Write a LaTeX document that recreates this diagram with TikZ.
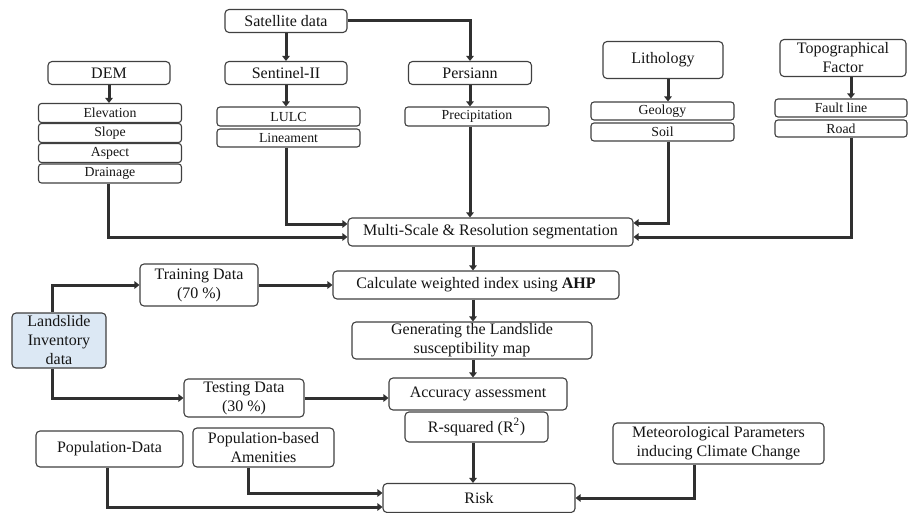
\documentclass[tikz,border=0pt]{standalone}
\usepackage{fontspec}
\setmainfont{Liberation Serif}
\usepackage{xcolor}
\definecolor{edge}{HTML}{404040}
\definecolor{wire}{HTML}{303030}
\definecolor{ink}{HTML}{151515}
\definecolor{inventory}{HTML}{DCE8F4}
\usepackage{tikz}
\usetikzlibrary{arrows.meta,positioning}

\begin{document}
\begin{tikzpicture}[x=1pt, y=-1pt,
    box/.style={draw=edge, line width=1.1pt, rounded corners=4pt, fill=white,
      text=ink, align=center, inner sep=1pt, font=\fontsize{16}{19}\selectfont},
    sub/.style={box, rounded corners=3pt, font=\fontsize{13.8}{15}\selectfont},
    arr/.style={draw=wire, line width=3pt, -{Triangle[length=5pt,width=7.5pt]}}]
  \useasboundingbox (0,0) rectangle (909,513);

  % Data sources
  \node[box, minimum width=122pt, minimum height=23pt] (sat) at (286,21) {Satellite data};
  \node[box, minimum width=122pt, minimum height=23pt] (dem) at (109,73) {DEM};
  \node[box, minimum width=122pt, minimum height=23pt] (sen) at (286,73) {Sentinel-II};
  \node[box, minimum width=123pt, minimum height=23pt] (per) at (470,73) {Persiann};
  \node[box, minimum width=120pt, minimum height=37pt] (lith) at (663,60) {Lithology};
  \node[box, minimum width=126pt, minimum height=37pt] (topo) at (843,58) {Topographical\\Factor};

  % Factor layers
  \node[sub, minimum width=143pt, minimum height=19pt] (elev) at (110,113) {Elevation};
  \node[sub, minimum width=143pt, minimum height=19pt] (slope) at (110,133) {Slope};
  \node[sub, minimum width=143pt, minimum height=19pt] (aspect) at (110,153) {Aspect};
  \node[sub, minimum width=143pt, minimum height=19pt] (drain) at (110,173.5) {Drainage};
  \node[sub, minimum width=143pt, minimum height=19pt] (lulc) at (288.5,116.5) {LULC};
  \node[sub, minimum width=143pt, minimum height=18pt] (linea) at (288.5,138) {Lineament};
  \node[sub, minimum width=144pt, minimum height=19pt] (prec) at (477,116.5) {Precipitation};
  \node[sub, minimum width=143pt, minimum height=18pt] (geo) at (662.5,111) {Geology};
  \node[sub, minimum width=143pt, minimum height=18pt] (soil) at (662.5,132) {Soil};
  \node[sub, minimum width=132pt, minimum height=18pt] (fault) at (841,108) {Fault line};
  \node[sub, minimum width=132pt, minimum height=17pt] (road) at (841,128.5) {Road};

  % Processing chain
  \node[box, minimum width=285pt, minimum height=28pt] (ms) at (490.5,232) {Multi-Scale \& Resolution segmentation};
  \node[box, minimum width=286pt, minimum height=28pt] (ahp) at (476,285) {Calculate weighted index using \textbf{AHP}};
  \node[box, minimum width=240pt, minimum height=37pt] (gen) at (472,340.5) {Generating the Landslide\\susceptibility map};
  \node[box, minimum width=178pt, minimum height=32pt] (acc) at (478,394) {Accuracy assessment};
  \node[box, minimum width=143pt, minimum height=30pt] (rsq) at (476.5,427) {R-squared (R\textsuperscript{2})};
  \node[box, minimum width=192pt, minimum height=29pt] (risk) at (479,498) {Risk};

  % Inventory split
  \node[box, fill=inventory, minimum width=94pt, minimum height=55pt] (inv) at (59,340.5) {Landslide\\Inventory\\data};
  \node[box, minimum width=118pt, minimum height=42pt] (train) at (199,285) {Training Data\\(70 \%)};
  \node[box, minimum width=120pt, minimum height=38pt] (test) at (244,398) {Testing Data\\(30 \%)};

  % Exposure inputs
  \node[box, minimum width=147pt, minimum height=36pt] (popd) at (109.5,449) {Population-Data};
  \node[box, minimum width=141pt, minimum height=39pt] (amen) at (263.5,447.5) {Population-based\\Amenities};
  \node[box, minimum width=211pt, minimum height=41pt] (met) at (718.5,443.5) {Meteorological Parameters\\inducing Climate Change};

  \coordinate (spine) at (473,0);

  % Connectors, top part
  \draw[arr] (sat) -- (sen);
  \draw[arr] (sat.east) -| (per);
  \draw[arr] (dem) -- (dem |- elev.north);
  \draw[arr] (sen) -- (sen |- lulc.north);
  \draw[arr] (per) -- (per |- prec.north);
  \draw[arr] ([xshift=5pt]lith.south) -- ([xshift=5pt]lith.south |- geo.north);
  \draw[arr] ([xshift=8pt]topo.south) -- ([xshift=8pt]topo.south |- fault.north);

  % Into segmentation
  \draw[arr] ([xshift=-2pt]drain.south) |- ([yshift=-5pt]ms.west);
  \draw[arr] (linea.south -| sen) |- ([yshift=8pt]ms.west);
  \draw[arr] (prec.south -| per) -- (ms.north -| per);
  \draw[arr] ([xshift=6pt]soil.south) |- ([yshift=9pt]ms.east);
  \draw[arr] ([xshift=10pt]road.south) |- ([yshift=-5pt]ms.east);

  % Main chain
  \draw[arr] (ms.south -| spine) -- (ahp.north -| spine);
  \draw[arr] (ahp.south -| spine) -- (gen.north -| spine);
  \draw[arr] (gen.south -| spine) -- (acc.north -| spine);
  \draw[arr] (rsq.south -| spine) -- (risk.north -| spine);

  % Inventory
  \draw[arr] ([xshift=-7pt]inv.north) |- (train.west);
  \draw[arr] ([xshift=-7pt]inv.south) |- (test.west);
  \draw[arr] (train.east) -- (ahp.west |- train.east);
  \draw[arr] (test.east) -- (acc.west |- test.east);

  % Into risk
  \draw[arr] ([xshift=-2pt]popd.south) |- ([yshift=-9pt]risk.west);
  \draw[arr] ([xshift=-15pt]amen.south) |- ([yshift=5pt]risk.west);
  \draw[arr] ([xshift=-24pt]met.south) |- (risk.east);
\end{tikzpicture}
\end{document}
